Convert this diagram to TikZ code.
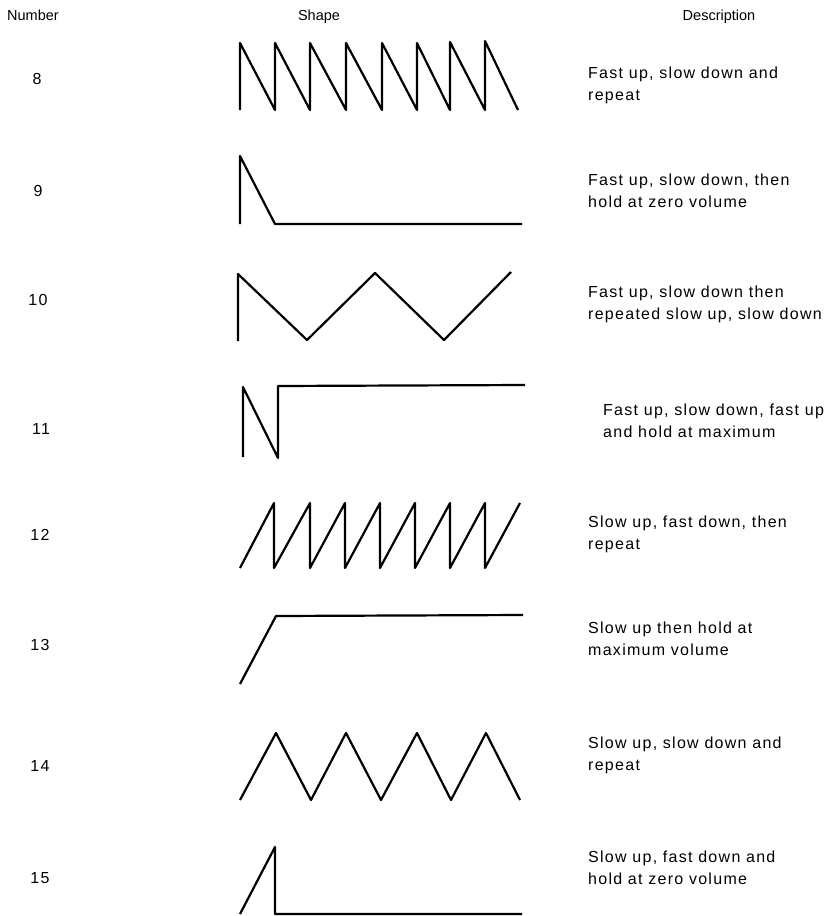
\documentclass[tikz,border=0pt]{standalone}
\usepackage{fontspec}
\setmainfont{Liberation Sans}
\newfontfamily\descfont[LetterSpace=8]{Liberation Sans}
\begin{document}
\begin{tikzpicture}[x=1pt,y=-1pt,
  wave/.style={line width=2.2pt,line join=round,line cap=butt},
  head/.style={inner sep=0pt,font=\fontsize{14.5}{16}\selectfont},
  numlab/.style={inner sep=0pt,font=\descfont\fontsize{16}{22}\selectfont},
  desc/.style={inner sep=0pt,anchor=base west,align=left,font=\descfont\fontsize{16}{22}\selectfont}]
\useasboundingbox[fill=white] (0,0) rectangle (834,916);
% headers
\node[head,anchor=base west] (hnum) at (7,20) {Number};
\node[head,anchor=base] (hshape) at (319,20) {Shape};
\node[head,anchor=base] (hdesc) at (719,20) {Description};
% numbers
\node[numlab] (n8) at (37,79) {8};
\node[numlab] (n9) at (38,191) {9};
\node[numlab] (n10) at (38,300) {10};
\node[numlab] (n11) at (41,429) {11};
\node[numlab] (n12) at (40,535) {12};
\node[numlab] (n13) at (40,645) {13};
\node[numlab] (n14) at (40,766) {14};
\node[numlab] (n15) at (40,878) {15};
% descriptions (anchor at baseline of second line)
\node[desc] (d8) at (588,100) {Fast up, slow down and\\repeat};
\node[desc] (d9) at (588,207) {Fast up, slow down, then\\hold at zero volume};
\node[desc] (d10) at (588,319) {Fast up, slow down then\\repeated slow up, slow down};
\node[desc] (d11) at (603,437) {Fast up, slow down, fast up\\and hold at maximum};
\node[desc] (d12) at (588,549) {Slow up, fast down, then\\repeat};
\node[desc] (d13) at (588,655) {Slow up then hold at\\maximum volume};
\node[desc] (d14) at (588,770) {Slow up, slow down and\\repeat};
\node[desc] (d15) at (588,884) {Slow up, fast down and\\hold at zero volume};
% shapes
\draw[wave] (240,110)--(240,43)--(275,110)--(275,43)--(310,110)--(310,43)--(346,110)--(346,43)--(382,110)--(382,43)--(417,110)--(417,43)--(450,110)--(450,42)--(485,110)--(485,41)--(518,110);
\draw[wave] (240,224)--(240,156)--(275,224)--(522,224);
\draw[wave] (238,341)--(238,274)--(307,340)--(375,273)--(444,340)--(511,272);
\draw[wave] (243,457)--(243,387)--(278,458)--(278,386)--(525,385);
\draw[wave] (240,568)--(274,503)--(274,568)--(310,503)--(310,568)--(345,503)--(345,568)--(380,503)--(380,568)--(415,503)--(415,568)--(450,503)--(450,568)--(485,503)--(485,568)--(520,503);
\draw[wave] (240,684)--(276,616)--(523,615);
\draw[wave] (240,800)--(276,733)--(311,800)--(346,733)--(381,800)--(417,733)--(451,800)--(486,733)--(520,800);
\draw[wave] (240,914)--(275,847)--(275,914)--(522,914);
\end{tikzpicture}
\end{document}
